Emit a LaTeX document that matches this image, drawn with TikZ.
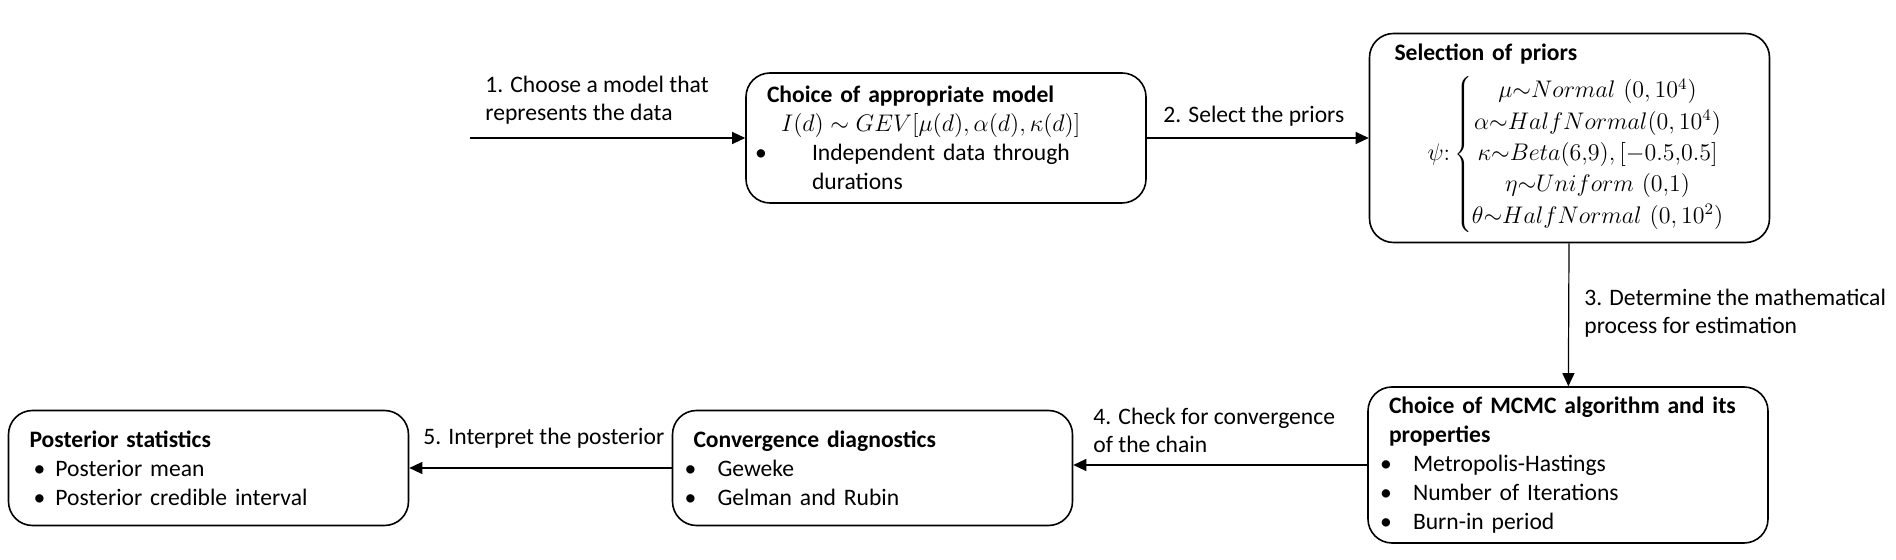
\documentclass[tikz,border=0pt]{standalone}
\usepackage{fontspec}
\setmainfont{Carlito}
\usetikzlibrary{arrows.meta}
\tikzset{
  stagebox/.style={draw, line width=0.8pt, rounded corners=12pt, minimum width=200pt,
    text width=179pt, inner xsep=10.5pt, align=left, font=\fontsize{11.8}{14.5}\selectfont},
  steplabel/.style={anchor=west, align=left, inner sep=0pt, font=\fontsize{11.8}{14}\selectfont},
  flow/.style={-{Triangle[length=6.5pt,width=6pt]}, line width=0.6pt},
}
\newcommand{\blt}[2]{\hspace*{#1}\makebox[#2][l]{\textbullet}}
\begin{document}
\begin{tikzpicture}[x=0.5pt,y=-0.5pt]
\useasboundingbox (0,0) rectangle (1896,560);
% stages
\node[stagebox, minimum height=65pt] (model) at (946,138) {\textbf{Choice of appropriate model}\\
\hspace*{7pt}$I(d)\sim GEV[\mu(d),\alpha(d),\kappa(d)]$\\
\blt{-6pt}{28.5pt}Independent data through\\
\hspace*{22.5pt}durations};
\node[stagebox, minimum height=104.5pt, inner ysep=0pt] (priors) at (1569.5,138) {\hspace*{2pt}\textbf{Selection of priors}\\[5pt]
\hspace*{18.5pt}$\psi{:}\renewcommand{\arraystretch}{1.08}\left\{\begin{array}{@{}c@{}}
\mu{\sim}Normal\ (0,10^4)\\
\alpha{\sim}HalfNormal(0,10^4)\\
\kappa{\sim}Beta(6{,}9),[-0.5{,}0.5]\\
\eta{\sim}Uniform\ (0{,}1)\\
\theta{\sim}HalfNormal\ (0,10^2)
\end{array}\right.$};
\node[stagebox, minimum height=78pt] (mcmc) at (1568,465) {\textbf{Choice of MCMC algorithm and its}\\
\textbf{properties}\\
\blt{-4.5pt}{16.5pt}Metropolis-Hastings\\
\blt{-4.5pt}{16.5pt}Number of Iterations\\
\blt{-4.5pt}{16.5pt}Burn-in period};
\node[stagebox, minimum height=57.5pt] (conv) at (872.5,468) {\textbf{Convergence diagnostics}\\
\blt{-4.5pt}{16.5pt}Geweke\\
\blt{-4.5pt}{16.5pt}Gelman and Rubin};
\node[stagebox, minimum height=57.5pt] (post) at (208.5,468) {\textbf{Posterior statistics}\\
\blt{2pt}{11pt}Posterior mean\\
\blt{2pt}{11pt}Posterior credible interval};
% step labels
\node[steplabel] (l1) at (485,100) {1. Choose a model that\\represents the data};
\node[steplabel] (l2) at (1163,116) {2. Select the priors};
\node[steplabel] (l3) at (1584,313) {3. Determine the mathematical\\process for estimation};
\node[steplabel] (l4) at (1093,430) {4. Check for convergence\\of the chain};
\node[steplabel] (l5) at (423,438) {5. Interpret the posterior};
% connectors
\coordinate (start) at (470,138);
\draw[flow] (start) -- (model);
\draw[flow] (model) -- (priors);
\draw[flow] (priors) -- (mcmc);
\draw[flow] (mcmc.west) -- (mcmc.west -| conv.east);
\draw[flow] (conv) -- (post);
\end{tikzpicture}
\end{document}
